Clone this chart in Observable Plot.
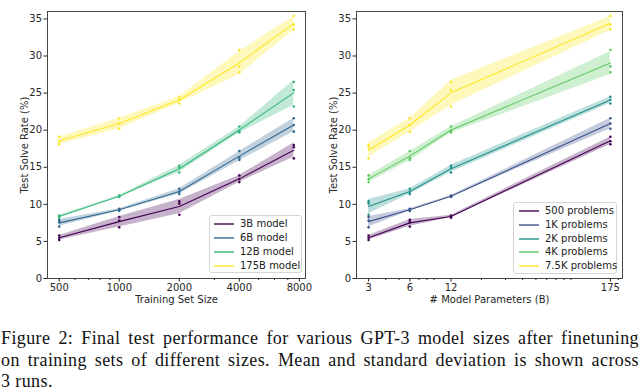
<!DOCTYPE html>
<html><head><meta charset="utf-8">
<script src="https://cdn.jsdelivr.net/npm/d3@7"></script>
<script src="https://cdn.jsdelivr.net/npm/@observablehq/plot@0.6"></script>
<style>
body{margin:0;background:#fff;}
#wrap{position:relative;width:640px;height:392px;overflow:hidden;font-family:"DejaVu Sans",sans-serif;background:#fff;}
#charts{position:absolute;left:0;top:0;display:flex;}
.legend{position:absolute;background:rgba(255,255,255,0.85);border:1px solid #d6d6d6;border-radius:3px;box-sizing:border-box;font-size:10px;color:#222;}
.legend .row{position:absolute;height:14px;line-height:14px;white-space:nowrap;}
.legend svg{position:absolute;top:0;}
.cap{position:absolute;left:1px;width:638px;font-family:"Liberation Serif","DejaVu Serif",serif;font-size:18px;letter-spacing:0.4px;line-height:21.5px;color:#111;}
.cap div{text-align:justify;}
.cap .j{text-align-last:justify;}
</style></head>
<body><div id="wrap"><div id="charts"></div>
<div class="cap" style="top:328px">
<div class="j">Figure 2: Final test performance for various GPT-3 model sizes after finetuning</div>
<div class="j">on training sets of different sizes. Mean and standard deviation is shown across</div>
<div>3 runs.</div>
</div></div>
<script>
// ---- data ----
const modelSizes = [3, 6, 12, 175];
const modelLabels = ["3B model", "6B model", "12B model", "175B model"];
const modelColors = ["#440154", "#31688e", "#35b779", "#fde725"];
const trainSizes = [500, 1000, 2000, 4000, 7500];
const sizeLabels = ["500 problems", "1K problems", "2K problems", "4K problems", "7.5K problems"];
const sizeColors = ["#440154", "#3b528b", "#21918c", "#5ec962", "#fde725"];
const leftTicks = [500, 1000, 2000, 4000, 8000];
const leftMinor = [600, 700, 800, 900, 3000, 5000, 6000, 7000];
const rightTicks = [3, 6, 12, 175];
const rightMinor = [4, 5, 7, 8, 9, 20, 30, 40, 50, 60, 70, 80, 90, 200];
const yTicks = [0, 5, 10, 15, 20, 25, 30, 35];
// three runs per training-set size (rows follow trainSizes)
const runs3B   = [[5.2, 5.5, 5.8], [6.9, 7.8, 8.3], [8.6, 10.1, 10.4], [13.0, 13.4, 13.9], [16.2, 17.7, 18.0]];
const runs6B   = [[7.0, 7.6, 7.9], [9.1, 9.3, 9.4], [11.4, 11.7, 12.1], [16.0, 16.3, 17.2], [19.8, 20.7, 21.6]];
const runs12B  = [[8.2, 8.4, 8.5], [11.0, 11.1, 11.2], [14.3, 14.9, 15.2], [19.7, 19.9, 20.5], [23.2, 25.4, 26.5]];
const runs175B = [[18.1, 18.5, 19.1], [20.2, 20.9, 21.6], [23.6, 24.1, 24.5], [27.8, 28.6, 30.8], [33.6, 34.2, 35.4]];
const allRuns = [runs3B, runs6B, runs12B, runs175B];

// ---- tables ----
const rows = [];
allRuns.forEach((m, mi) => m.forEach((cell, si) => cell.forEach((v, r) => rows.push({
  model: modelSizes[mi], size: trainSizes[si], run: r, value: v}))));
const stats = [];
allRuns.forEach((m, mi) => m.forEach((cell, si) => stats.push({
  model: modelSizes[mi], size: trainSizes[si],
  mean: d3.mean(cell), sd: d3.deviation(cell)})));

function padLog(vals) {
  const a = Math.log(d3.min(vals)), b = Math.log(d3.max(vals)), s = (b - a) * 0.05;
  return [Math.exp(a - s), Math.exp(b + s)];
}

function panel({xKey, zKey, zDomain, colors, ticks, minor, xLabel, marginLeft, marginRight}) {
  return Plot.plot({
    width: 320, height: 306,
    marginTop: 11, marginBottom: 28, marginLeft, marginRight,
    style: {fontFamily: "DejaVu Sans, sans-serif", fontSize: "10px", color: "#262626", background: "transparent", overflow: "visible"},
    x: {type: "log", domain: padLog(rows.map(d => d[xKey]))},
    y: {domain: [0, 36]},
    color: {domain: zDomain, range: colors},
    marks: [
      Plot.areaY(stats, {x: xKey, y1: d => d.mean - d.sd, y2: d => d.mean + d.sd, z: zKey, fill: zKey, fillOpacity: 0.3}),
      Plot.lineY(stats, {x: xKey, y: "mean", z: zKey, stroke: zKey, strokeWidth: 1.1}),
      Plot.dot(rows, {x: xKey, y: "value", fill: zKey, r: 1.3}),
      Plot.axisX({ticks: minor, tickSize: 2, tickFormat: () => "", label: null}),
      Plot.axisX({ticks, tickSize: 3.5, tickFormat: () => "", label: xLabel, labelAnchor: "center", labelOffset: 24, labelArrow: "none"}),
      Plot.text(ticks, {x: d => d, text: d => String(d), frameAnchor: "bottom", lineAnchor: "top", dy: 5, fill: "#262626"}),
      Plot.axisY({ticks: yTicks, tickSize: 3.5, tickPadding: 2, label: "Test Solve Rate (%)", labelAnchor: "center", labelOffset: 27, labelArrow: "none"}),
      Plot.frame({stroke: "#333", strokeWidth: 0.9})
    ]
  });
}

const charts = document.getElementById("charts");
charts.append(panel({xKey: "size", zKey: "model", zDomain: modelSizes, colors: modelColors,
  ticks: leftTicks, minor: leftMinor, xLabel: "Training Set Size", marginLeft: 47, marginRight: 15}));
charts.append(panel({xKey: "model", zKey: "size", zDomain: trainSizes, colors: sizeColors,
  ticks: rightTicks, minor: rightMinor, xLabel: "# Model Parameters (B)", marginLeft: 36, marginRight: 18}));

function legend(labels, colors, box, rowTops, lineX, textX) {
  const div = document.createElement("div");
  div.className = "legend";
  Object.assign(div.style, {left: box[0] + "px", top: box[1] + "px", width: box[2] + "px", height: box[3] + "px"});
  labels.forEach((lab, i) => {
    const row = document.createElement("div");
    row.className = "row";
    row.style.top = rowTops[i] + "px";
    row.style.left = "0px";
    row.innerHTML = `<svg width="${textX}" height="14"><line x1="${lineX[0]}" x2="${lineX[1]}" y1="7" y2="7" stroke="${colors[i]}" stroke-width="1.4"/></svg><span style="position:absolute;left:${textX}px">${lab}</span>`;
    div.append(row);
  });
  document.getElementById("wrap").append(div);
}
legend(modelLabels, modelColors, [209, 215, 93, 58], [1, 15, 28.5, 43], [4, 24], 30);
legend(sizeLabels, sizeColors, [513, 202, 104, 72], [1, 14.5, 28.5, 42, 56], [5, 25], 31);
</script></body></html>
